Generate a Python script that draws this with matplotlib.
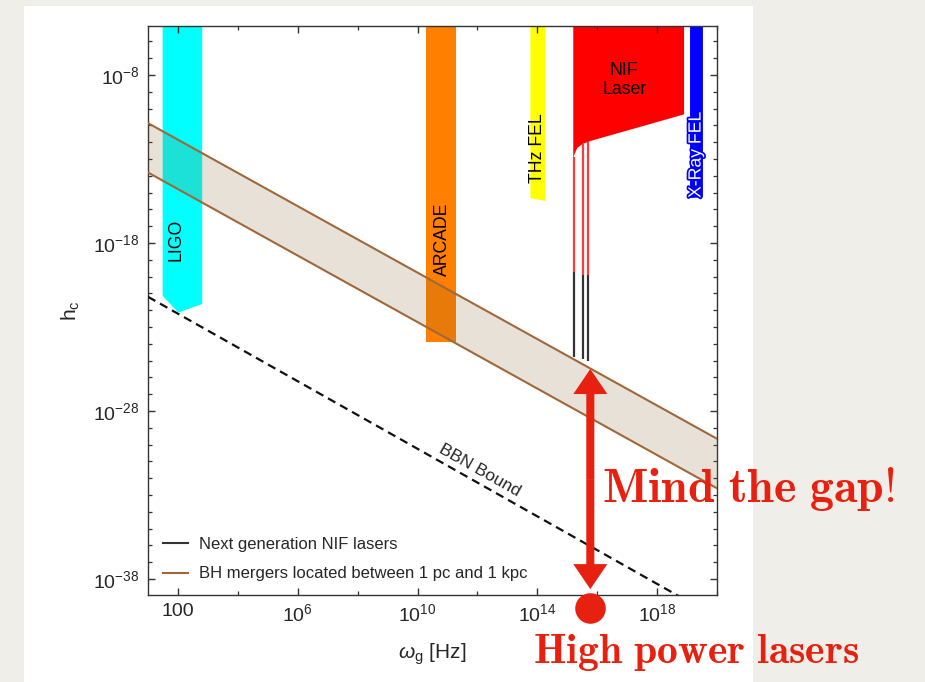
import numpy as np
import matplotlib
matplotlib.use("Agg")
import matplotlib.pyplot as plt
from matplotlib.lines import Line2D
from matplotlib.patches import Rectangle, FancyArrowPatch, ArrowStyle
from matplotlib.ticker import NullFormatter
import matplotlib.patheffects as pe

plt.rcParams['font.family'] = ['Liberation Sans', 'DejaVu Sans']
plt.rcParams['mathtext.fontset'] = 'custom'
plt.rcParams['mathtext.rm'] = 'Liberation Sans'
plt.rcParams['mathtext.it'] = 'Liberation Sans:italic'
plt.rcParams['mathtext.bf'] = 'Liberation Sans:bold'

# ---------------- data (log10 values) ----------------
x_lim_log = [1.0, 20.0]
y_lim_log = [-38.95, -5.08]

x_major_log = [2, 6, 10, 14, 18]
x_major_labels = ["100", r"$10^{6}$", r"$10^{10}$", r"$10^{14}$", r"$10^{18}$"]
x_minor_log = [4, 8, 12, 16, 20]
y_major_log = [-38, -28, -18, -8]
y_major_labels = [r"$10^{-38}$", r"$10^{-28}$", r"$10^{-18}$", r"$10^{-8}$"]
y_minor_log = list(range(-38, -5))

# BH merger band (1 pc .. 1 kpc)
band_x_log = [1.0, 20.0]
band_upper_log = [-10.86, -29.65]
band_lower_log = [-13.80, -32.60]

# BBN bound
bbn_x_log = [1.0, 20.0]
bbn_y_log = [-21.2, -40.3]

# experiments (polygons, log10 coordinates)
ligo_x_log = [1.49, 2.81, 2.81, 2.01, 1.49]
ligo_y_log = [-5.0, -5.0, -21.63, -22.13, -21.14]
arcade_x_log = [10.27, 11.27, 11.27, 10.27]
arcade_y_log = [-5.0, -5.0, -23.9, -23.9]
thz_x_log = [13.77, 14.27, 14.27, 13.77]
thz_y_log = [-5.0, -5.0, -15.5, -15.32]
xray_x_log = [19.10, 19.53, 19.53, 19.10]
xray_y_log = [-5.0, -5.0, -15.28, -15.32]
nif_x_log = [15.20, 18.90, 18.90, 15.80, 15.50, 15.33, 15.23, 15.20]
nif_y_log = [-5.0, -5.0, -10.34, -11.91, -12.11, -12.35, -12.76, -13.06]

# next generation NIF lasers (thin lines)
nifng_x_log = [15.23, 15.53, 15.70]
nifng_red_top_log = [-12.9, -12.08, -11.97]
nifng_mid_log = [-19.73, -19.90, -19.90]
nifng_black_bottom_log = [-24.79, -24.90, -25.02]

# annotation position (gap)
gap_x_log = 15.77
gap_top_log = -25.5
gap_bottom_log = -38.6
dot_y_log = -39.73

legend_labels = ["Next generation NIF lasers", "BH mergers located between 1 pc and 1 kpc"]

# ---------------- styles ----------------
W, H = 925, 682
BG = '#efeee9'
RED = '#e8200f'
BROWN = '#a0683a'
FILL = '#8c6937'
TXT = '#262626'

fig = plt.figure(figsize=(W / 100, H / 100), dpi=100)
fig.patch.set_facecolor(BG)
fig.add_artist(Rectangle((24 / W, 0), (753 - 24) / W, (682 - 6) / H,
                         transform=fig.transFigure, facecolor='white',
                         edgecolor='none', zorder=0))

ax = fig.add_axes([148 / W, 1 - 595 / H, 569 / W, 569 / H])
ax.set_facecolor('white')
ax.set_xscale('log')
ax.set_yscale('log')
ax.set_xlim(10 ** x_lim_log[0], 10 ** x_lim_log[1])
ax.set_ylim(10 ** y_lim_log[0], 10 ** y_lim_log[1])

p10 = lambda a: 10 ** np.asarray(a, dtype=float)

# experiment regions
ax.fill(p10(ligo_x_log), p10(ligo_y_log), color='#00ffff', lw=0, zorder=1)
ax.fill(p10(arcade_x_log), p10(arcade_y_log), color='#ff7f00', lw=0, zorder=1)
ax.fill(p10(thz_x_log), p10(thz_y_log), color='#ffff00', lw=0, zorder=1)
ax.fill(p10(xray_x_log), p10(xray_y_log), color='#0000ff', lw=0, zorder=1)
ax.fill(p10(nif_x_log), p10(nif_y_log), color='#ff0000', lw=0, zorder=1)

# NIF next generation lines
for xl, a, b, c in zip(nifng_x_log, nifng_red_top_log, nifng_mid_log, nifng_black_bottom_log):
    ax.plot([10 ** xl, 10 ** xl], [10 ** a, 10 ** b], color='#ff3a3a', lw=1.6, zorder=2,
            solid_capstyle='butt')
    ax.plot([10 ** xl, 10 ** xl], [10 ** b, 10 ** c], color='#333333', lw=1.6, zorder=2,
            solid_capstyle='butt')

# BH merger band
ax.fill_between(p10(band_x_log), p10(band_lower_log), p10(band_upper_log),
                color=FILL, alpha=0.2, lw=0, zorder=3)
ax.plot(p10(band_x_log), p10(band_upper_log), color=BROWN, lw=1.5, zorder=4)
ax.plot(p10(band_x_log), p10(band_lower_log), color=BROWN, lw=1.5, zorder=4)

# BBN bound
ax.plot(p10(bbn_x_log), p10(bbn_y_log), color='#111111', lw=1.6,
        linestyle=(0, (3.8, 2.4)), zorder=4)
pts = ax.transData.transform(np.column_stack([p10(bbn_x_log), p10(bbn_y_log)]))
ang = np.degrees(np.arctan2(pts[1, 1] - pts[0, 1], pts[1, 0] - pts[0, 0]))
ax.text(10 ** 12.07, 10 ** -31.51, "BBN Bound", rotation=ang, rotation_mode='anchor',
        ha='center', va='center', fontsize=12.5, color=TXT, zorder=5)

# region labels
lab_kw = dict(fontsize=12.7, color='black', ha='center', va='center', zorder=5)
ax.text(10 ** 1.93, 10 ** -17.8, "LIGO", rotation=90, **lab_kw)
ax.text(10 ** 10.83, 10 ** -17.76, "ARCADE", rotation=90, **lab_kw)
ax.text(10 ** 14.0, 10 ** -12.35, "THz FEL", rotation=90, **lab_kw)
ax.text(10 ** 16.9, 10 ** -8.3, "NIF\nLaser", linespacing=1.2, **lab_kw)
ax.text(10 ** 19.3, 10 ** -12.75, "X-Ray FEL", rotation=90, fontsize=12.7, color='white',
        ha='center', va='center', zorder=5,
        path_effects=[pe.withStroke(linewidth=2.5, foreground='#0000ff')])

# ticks
ax.set_xticks(p10(x_major_log), x_major_labels)
ax.set_xticks(p10(x_minor_log), minor=True)
ax.set_yticks(p10(y_major_log), y_major_labels)
ax.set_yticks(p10([v for v in y_minor_log if v not in y_major_log]), minor=True)
ax.xaxis.set_minor_formatter(NullFormatter())
ax.yaxis.set_minor_formatter(NullFormatter())
ax.tick_params(which='both', direction='in', top=True, right=True, color='#333333')
ax.tick_params(which='major', length=5, width=1.0, labelsize=14, labelcolor=TXT, pad=6)
ax.tick_params(which='minor', length=3, width=0.9)
for s in ax.spines.values():
    s.set_color('#333333')
    s.set_linewidth(1.0)

ax.set_xlabel(r"$\omega_{\mathrm{g}}$ [Hz]", fontsize=15, color=TXT)
ax.set_ylabel(r"h$_{\mathrm{c}}$", fontsize=15, color=TXT)
ax.xaxis.set_label_coords(0.5, -0.082)
ax.yaxis.set_label_coords(-0.116, 0.5)

# legend
handles = [Line2D([], [], color='#333333', lw=1.5), Line2D([], [], color=BROWN, lw=1.5)]
ax.legend(handles, legend_labels, loc='lower left', bbox_to_anchor=(0.026, 0.024),
          frameon=False, fontsize=12, handlelength=1.5, handletextpad=0.65,
          labelspacing=0.85, borderpad=0, borderaxespad=0, labelcolor=TXT)

# ---------------- annotations ----------------
mid = 10 ** ((gap_top_log + gap_bottom_log) / 2)
style = ArrowStyle.Simple(head_length=18, head_width=24.5, tail_width=5.8)
for end in (gap_top_log, gap_bottom_log):
    arr = FancyArrowPatch((10 ** gap_x_log, mid), (10 ** gap_x_log, 10 ** end),
                          arrowstyle=style, mutation_scale=1, color=RED, lw=0,
                          shrinkA=0, shrinkB=0, clip_on=False, zorder=10)
    ax.add_patch(arr)
ax.plot([10 ** gap_x_log], [10 ** dot_y_log], 'o', color=RED, markersize=22,
        markeredgewidth=0, clip_on=False, zorder=10)

fig.text(602 / W, 1 - 502 / H, r"$\mathbf{Mind\ the\ gap!}$", math_fontfamily='cm',
         fontsize=34.5, color=RED, ha='left', va='baseline', zorder=10)
fig.text(533 / W, 1 - 663 / H, r"$\mathbf{High\ power\ lasers}$", math_fontfamily='cm',
         fontsize=30, color=RED, ha='left', va='baseline', zorder=10)

fig.savefig("out.png", dpi=100, facecolor=fig.get_facecolor())
